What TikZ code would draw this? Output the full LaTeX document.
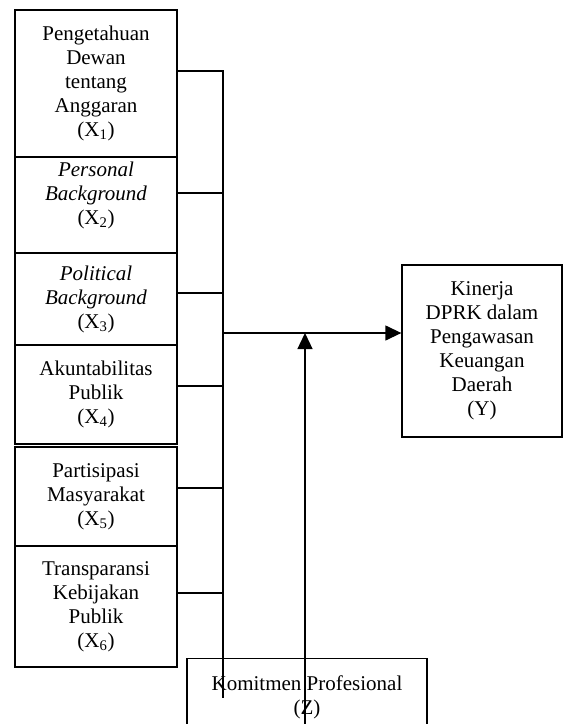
\documentclass[tikz,border=0pt]{standalone}
\usepackage{fontspec}
\setmainfont{Liberation Serif}
\usetikzlibrary{arrows.meta}
\tikzset{
  box/.style={draw, line width=1.3pt, minimum width=162pt, align=center, inner sep=0pt,
    font=\fontsize{21}{24}\selectfont},
  link/.style={line width=1.3pt},
  tip/.style={-{Triangle[length=16pt,width=15pt]}}
}
\begin{document}
\begin{tikzpicture}[x=1pt,y=-1pt]
            \useasboundingbox (0,0) rectangle (563,724);
            % variabel bebas
            \node[box, minimum height=147pt] (x1) at (96,83.5) {Pengetahuan\\Dewan\\tentang\\Anggaran\\(X\textsubscript{1})};
            \node[box, minimum height=96pt] (x2) at (96,205) {\textit{Personal}\\\textit{Background}\\(X\textsubscript{2})\\\mbox{}};
            \node[box, minimum height=92pt] (x3) at (96,299) {\textit{Political}\\\textit{Background}\\(X\textsubscript{3})};
            \node[box, minimum height=99pt] (x4) at (96,394.5) {Akuntabilitas\\Publik\\(X\textsubscript{4})};
            \node[box, minimum height=99pt] (x5) at (96,496.5) {Partisipasi\\Masyarakat\\(X\textsubscript{5})};
            \node[box, minimum height=121pt] (x6) at (96,606.5) {Transparansi\\Kebijakan\\Publik\\(X\textsubscript{6})};
            % variabel terikat dan moderasi
            \node[box, minimum width=160pt, minimum height=172pt] (y) at (482,351) {Kinerja\\DPRK dalam\\Pengawasan\\Keuangan\\Daerah\\(Y)};
            \node[box, anchor=north, minimum width=240pt, minimum height=77pt] (z) at (307,658) {Komitmen Profesional\\(Z)};
            \coordinate (bustop) at (223,71);
            \coordinate (busend) at (223,698);
            \coordinate (join) at (223,333);
            \foreach \i/\d in {1/12.5,2/12,3/6,4/8.5,5/8.5,6/13.5}
              \draw[link] ([yshift=\d pt]x\i.east) -- ++(46,0);
            \draw[link] (bustop) -- (busend);
            \draw[link,tip] (join) -- (join -| y.west);
            \draw[link,tip] ([xshift=-2pt]z.south) -- ([xshift=-2pt]z.south |- join);
        \end{tikzpicture}
\end{document}
